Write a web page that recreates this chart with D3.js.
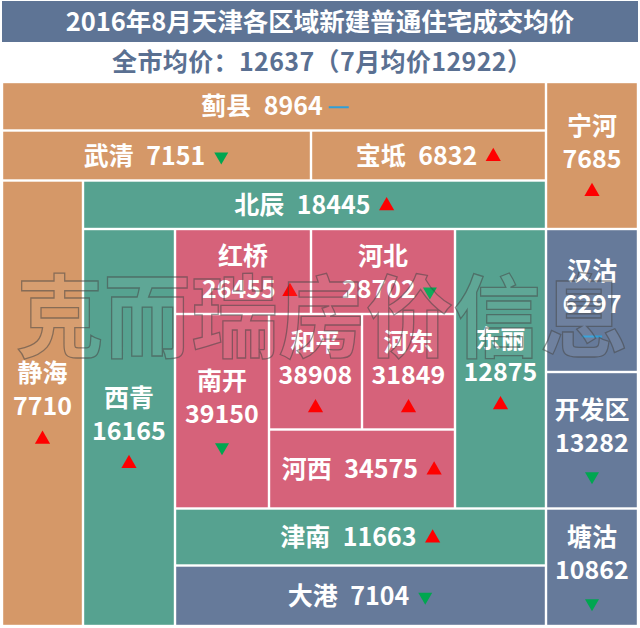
<!DOCTYPE html>
<html><head><meta charset="utf-8">
<script src="https://cdn.jsdelivr.net/npm/d3@7"></script>
<style>
body{margin:0;background:#fff;}
svg{display:block;font-family:"Noto Sans CJK SC","Noto Sans",sans-serif;}
</style>
</head><body><svg id="c" width="640" height="628"></svg>
<script>
// ---------- data ----------
const title = "2016年8月天津各区域新建普通住宅成交均价";
const subtitle = "全市均价：12637（7月均价12922）";
const watermark = "克而瑞房价信息";
const districts = ["蓟县","宁河","武清","宝坻","静海","北辰","西青","红桥","河北","南开","和平","河东","河西","东丽","汉沽","开发区","津南","大港","塘沽"];
const prices = [8964,7685,7151,6832,7710,18445,16165,26455,28702,39150,38908,31849,34575,12875,6297,13282,11663,7104,10862];
const trends = ["flat","up","down","up","up","up","up","up","down","down","up","up","up","up","flat","down","up","down","down"];
const ring = ["outer","outer","outer","outer","outer","suburb","suburb","core","core","core","core","core","core","suburb","binhai","binhai","suburb","binhai","binhai"];

// ---------- layout (schematic grid) ----------
const colEdges = [2,83,175,269,311,362,455,546,638];
const rowEdges = [82,130.5,180.5,229,314,372,429.5,508.5,565.5,626];
const spans = [[0,7,0,1],[7,8,0,3],[0,4,1,2],[4,7,1,2],[0,1,2,9],[1,7,2,3],[1,2,3,9],[2,4,3,4],[4,6,3,4],[2,3,4,7],[3,5,4,6],[5,6,4,6],[3,6,6,7],[6,7,3,7],[7,8,3,5],[7,8,5,7],[2,7,7,8],[2,7,8,9],[7,8,7,9]];
const labelMode = ["row","stack","row","row","stack","row","stack","two","two","stack","stack","stack","row","stack","stack","stack","row","row","stack"];

const svg = d3.select("#c");
const W = 640;
const xg = d3.scaleOrdinal().domain(d3.range(colEdges.length)).range(colEdges);
const yg = d3.scaleOrdinal().domain(d3.range(rowEdges.length)).range(rowEdges);
const color = d3.scaleOrdinal().domain(["outer","suburb","core","binhai"])
  .range(["#D59868","#56A290","#D6627A","#667A9A"]);
const trendColor = d3.scaleOrdinal().domain(["up","down","flat"]).range(["#FF0000","#00A650","#2E9FD8"]);

// header
svg.append("rect").attr("x",2).attr("y",1).attr("width",636).attr("height",41).attr("fill","#5E7495");
svg.append("text").attr("x",W/2).attr("y",22).attr("dy","0.36em").attr("text-anchor","middle")
  .attr("fill","#fff").attr("font-size",25.5).attr("font-weight",700).text(title);
svg.append("text").attr("x",W/2+2).attr("y",62).attr("dy","0.36em").attr("text-anchor","middle")
  .attr("fill","#5A7092").attr("font-size",25).attr("font-weight",700)
  .attr("textLength",420).attr("lengthAdjust","spacing").text(subtitle);

const gap = 1.2;
const tiles = districts.map((name,i)=>{
  const [c0,c1,r0,r1] = spans[i];
  return {name, price:prices[i], trend:trends[i], ring:ring[i], mode:labelMode[i],
    x0:xg(c0)+gap, x1:xg(c1)-gap, y0:yg(r0)+gap, y1:yg(r1)-gap};
});

const g = svg.append("g").selectAll("g").data(tiles).join("g");
g.append("rect").attr("x",d=>d.x0).attr("y",d=>d.y0)
  .attr("width",d=>d.x1-d.x0).attr("height",d=>d.y1-d.y0).attr("fill",d=>color(d.ring));

function marker(sel, d, cx, cy){
  if(d.trend==="flat"){
    sel.append("line").attr("x1",cx-10).attr("x2",cx+10).attr("y1",cy).attr("y2",cy)
      .attr("stroke",trendColor("flat")).attr("stroke-width",2);
  } else {
    sel.append("path").attr("d",d3.symbol(d3.symbolTriangle, d.trend==="up"?100:85)())
      .attr("transform",`translate(${cx},${cy})${d.trend==="down"?" rotate(180)":""}`)
      .attr("fill",trendColor(d.trend));
  }
}

const FS = 25;
g.each(function(d){
  const s = d3.select(this);
  const cx = (d.x0+d.x1)/2, cy = (d.y0+d.y1)/2;
  const txt = (x,y,str,anchor)=> s.append("text").attr("x",x).attr("y",y).attr("dy","0.36em")
      .attr("text-anchor",anchor||"middle").attr("fill","#fff").attr("font-size",FS)
      .attr("font-weight",700).text(str);
  if(d.mode==="row"){
    const t = txt(0,cy,d.name+"\u2002"+d.price,"start");
    const w = t.node().getComputedTextLength();
    const total = w + 8 + 16;
    const x = cx - total/2;
    t.attr("x",x);
    marker(s,d,x+w+8+8,cy+1);
  } else if(d.mode==="stack"){
    txt(cx,cy-30,d.name);
    txt(cx,cy+3,d.price);
    marker(s,d,cx,cy+36);
  } else {
    txt(cx,cy-16,d.name);
    const t = txt(0,cy+17,d.price,"start");
    const w = t.node().getComputedTextLength();
    const total = w + 8 + 16;
    const x = cx - total/2 + 8;
    t.attr("x",x);
    marker(s,d,x+w+14,cy+20);
  }
});

// watermark
svg.append("text").attr("x",322).attr("y",350).attr("text-anchor","middle")
  .attr("font-size",90).attr("font-weight",700)
  .attr("fill","rgba(255,255,255,0.06)").attr("stroke","rgba(70,70,70,0.55)").attr("stroke-width",1.3)
  .attr("textLength",612).attr("lengthAdjust","spacingAndGlyphs")
  .text(watermark);
</script>
</body></html>
